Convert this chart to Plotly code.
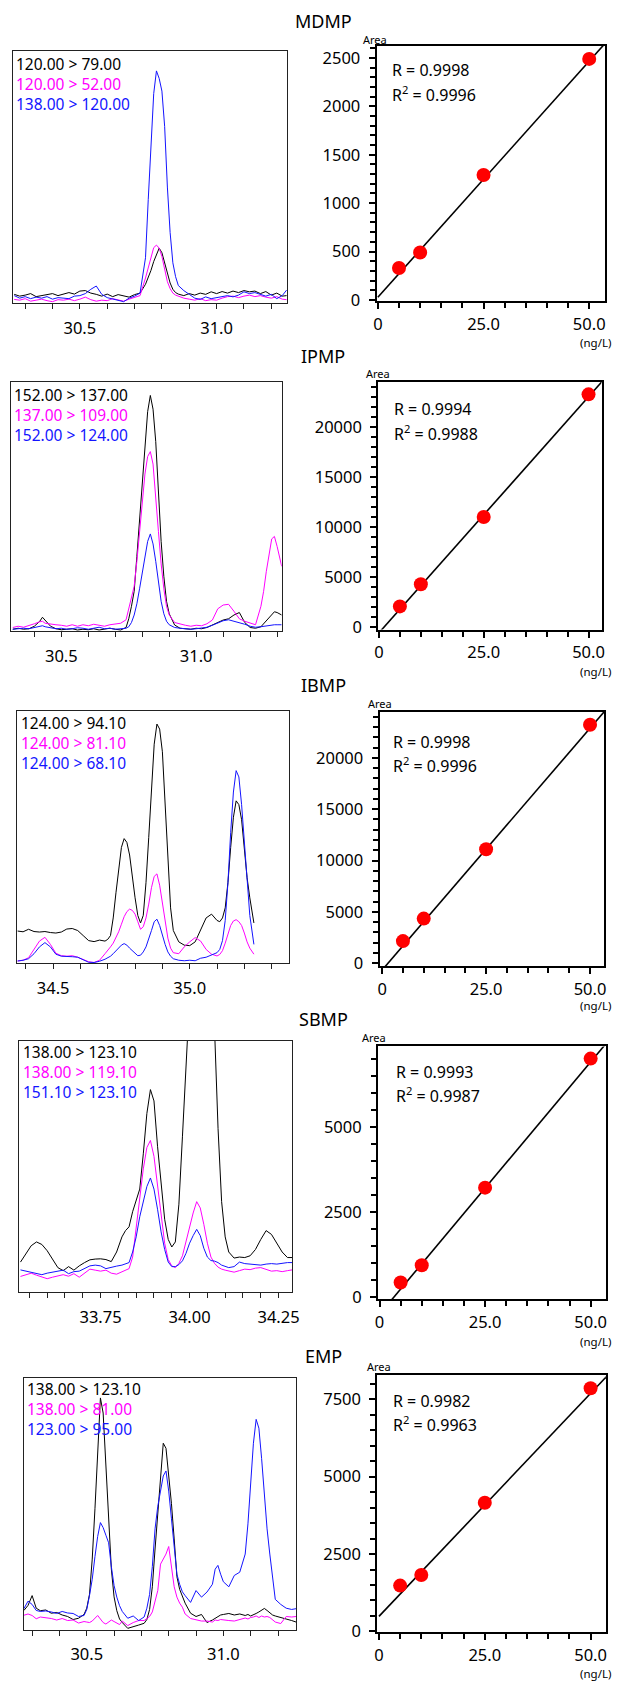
import plotly.graph_objects as go

W, H = 621, 1689
FONT = "Noto Sans"
BLACK, MAGENTA, BLUE, RED = "#000000", "#FF00FF", "#1414FF", "#FF0000"

# ------------------------------------------------------------------ data
compounds = ["MDMP", "IPMP", "IBMP", "SBMP", "EMP"]

trans_mdmp = ["120.00 > 79.00", "120.00 > 52.00", "138.00 > 120.00"]
trans_ipmp = ["152.00 > 137.00", "137.00 > 109.00", "152.00 > 124.00"]
trans_ibmp = ["124.00 > 94.10", "124.00 > 81.10", "124.00 > 68.10"]
trans_sbmp = ["138.00 > 123.10", "138.00 > 119.10", "151.10 > 123.10"]
trans_emp = ["138.00 > 123.10", "138.00 > 81.00", "123.00 > 95.00"]

# retention time (min) and relative intensity (% of panel height)
rt_mdmp = [30.26, 30.28, 30.30, 30.32, 30.34, 30.36, 30.38, 30.40, 30.42, 30.44,
           30.46, 30.48, 30.50, 30.52, 30.54, 30.56, 30.58, 30.60, 30.62, 30.64,
           30.66, 30.68, 30.70, 30.72, 30.74, 30.75, 30.76, 30.77, 30.78, 30.79,
           30.80, 30.81, 30.82, 30.83, 30.84, 30.85, 30.86, 30.88, 30.90, 30.92,
           30.94, 30.96, 30.98, 31.00, 31.02, 31.04, 31.06, 31.08, 31.10, 31.12,
           31.14, 31.16, 31.18, 31.20, 31.22, 31.24, 31.256]
mdmp_black = [3.5, 2.8, 3.2, 3.8, 2.6, 3.0, 3.5, 3.8, 3.0, 3.5,
              4.2, 3.6, 4.8, 5.0, 4.0, 3.5, 2.8, 3.6, 2.6, 3.4,
              3.0, 2.4, 3.4, 4.0, 7.5, 10, 13, 16.5, 19.5, 21.8,
              20, 16, 11.5, 8, 5.5, 4.2, 3.6, 3.0, 3.8, 3.2,
              4.0, 3.5, 4.5, 3.8, 4.6, 4.0, 4.8, 4.2, 5.0, 4.5,
              4.8, 3.8, 4.6, 3.2, 4.0, 2.8, 3.0]
mdmp_magenta = [1.5, 1.2, 1.8, 0.8, 1.2, 1.6, 1.0, 0.6, 1.4, 1.2,
                1.6, 1.0, 1.6, 2.4, 1.4, 0.8, 1.2, 1.0, 1.8, 1.4,
                0.8, 1.6, 2.2, 3.0, 10, 14, 18.5, 22, 23, 21.8,
                18.5, 13, 8.5, 5.8, 4.0, 3.2, 2.8, 2.0, 1.6, 1.2,
                1.8, 1.0, 1.4, 1.2, 2.0, 2.6, 2.8, 2.2, 2.8, 3.2,
                2.6, 3.0, 2.4, 2.0, 2.6, 1.6, 1.4]
mdmp_blue = [3.0, 2.0, 2.6, 1.8, 2.4, 2.0, 2.6, 1.6, 2.2, 2.0,
             1.8, 2.8, 3.0, 3.8, 5.5, 6.8, 3.5, 2.2, 1.6, 1.0,
             0.6, 2.0, 2.8, 4.0, 18, 41, 65, 83, 92, 89,
             84, 70, 46, 28, 16, 10.5, 7, 5, 3.5, 2.0,
             1.5, 2.5, 1.8, 2.2, 2.8, 3.0, 2.5, 3.2, 4.5, 3.8,
             4.2, 3.6, 2.8, 3.5, 1.8, 3.0, 5.2]

rt_ipmp = [30.32, 30.34, 30.36, 30.38, 30.40, 30.42, 30.43, 30.44, 30.46, 30.48,
           30.50, 30.52, 30.54, 30.56, 30.58, 30.60, 30.62, 30.64, 30.66, 30.68,
           30.70, 30.72, 30.74, 30.75, 30.76, 30.77, 30.78, 30.79, 30.80, 30.81,
           30.82, 30.83, 30.84, 30.85, 30.86, 30.87, 30.88, 30.89, 30.90, 30.92,
           30.94, 30.96, 30.98, 31.00, 31.02, 31.04, 31.06, 31.08, 31.10, 31.12,
           31.14, 31.16, 31.18, 31.20, 31.22, 31.24, 31.25, 31.26, 31.27, 31.28,
           31.29, 31.30, 31.317]
ipmp_black = [0.8, 1.2, 0.8, 1.0, 2.0, 4.0, 5.6, 4.5, 2.0, 1.0,
              0.6, 0.8, 1.0, 0.5, 0.8, 0.6, 1.0, 0.5, 0.8, 1.2,
              0.8, 0.5, 1.5, 5, 10, 16, 30, 45, 60, 76,
              88, 94.5, 89, 76, 56, 36, 22, 12, 7, 2.5,
              1.2, 1.0, 0.8, 1.2, 1.0, 1.5, 2.5, 3.5, 4.5, 5.0,
              6.5, 7.5, 3.5, 1.5, 1.2, 1.8, 3.0, 4.0, 5.0, 6.5,
              7.8, 7.5, 6.5]
ipmp_magenta = [1.5, 2.0, 1.6, 2.2, 3.0, 3.8, 4.0, 3.2, 2.8, 2.6,
                2.4, 2.0, 2.6, 2.0, 2.6, 2.2, 2.8, 2.4, 2.0, 2.6,
                3.0, 3.2, 4.6, 9, 13, 18, 28, 40, 52, 63,
                70, 72, 67, 55, 40, 27, 17, 10, 6.5, 3.5,
                2.8, 2.4, 2.0, 2.4, 2.2, 3.0, 4.5, 9, 10.5, 10.8,
                8, 5, 4.0, 3.2, 2.6, 10, 16, 24, 31, 37,
                38, 34, 26]
ipmp_blue = [0.8, 1.0, 1.2, 1.0, 1.6, 2.0, 2.2, 1.8, 1.4, 1.0,
             1.2, 0.8, 1.0, 1.4, 1.2, 0.8, 1.2, 1.6, 1.0, 1.2,
             0.8, 1.0, 1.2, 1.8, 3.5, 6.5, 11, 17, 23, 30,
             36, 39, 35, 28, 19, 12, 7, 4, 2.6, 1.5,
             1.2, 1.0, 0.8, 1.0, 1.2, 1.6, 2.4, 3.2, 4.2, 4.6,
             4.0, 3.6, 2.8, 2.0, 1.6, 1.8, 2.0, 2.2, 2.4, 2.6,
             2.6, 2.6, 2.6]

rt_ibmp = [34.37, 34.39, 34.41, 34.43, 34.45, 34.47, 34.49, 34.51, 34.53, 34.55,
           34.57, 34.59, 34.61, 34.63, 34.65, 34.67, 34.69, 34.70, 34.71, 34.72,
           34.73, 34.74, 34.75, 34.76, 34.77, 34.78, 34.79, 34.80, 34.81, 34.82,
           34.83, 34.84, 34.85, 34.86, 34.87, 34.88, 34.89, 34.90, 34.91, 34.92,
           34.93, 34.94, 34.96, 34.98, 35.00, 35.02, 35.04, 35.06, 35.08, 35.10,
           35.11, 35.12, 35.13, 35.14, 35.15, 35.16, 35.17, 35.18, 35.19, 35.20,
           35.21, 35.22, 35.235]
ibmp_black = [12.8, 12.5, 13.5, 12.6, 12.4, 12.6, 12.2, 12.0, 12.4, 13.6,
              13.8, 13.0, 11.0, 9.0, 8.6, 9.2, 8.8, 9.5, 11, 18,
              28, 38, 46, 49.5, 48, 43, 34, 26, 19, 16,
              19, 32, 50, 70, 87, 95, 93, 84, 62, 38,
              22, 13, 8.5, 7.2, 7.0, 8.5, 13, 18, 19.5, 17,
              16.5, 18, 22, 32, 46, 58, 64.5, 63, 57, 44,
              34, 26, 16]
ibmp_magenta = [0.9, 1.2, 2.2, 5.5, 8.8, 10.3, 7.5, 4.0, 3.0, 2.8,
                3.0, 2.4, 1.6, 0.6, 0.3, 1.2, 3.8, 5, 6.5, 8,
                10, 12.5, 15.5, 18.5, 20.5, 21.5, 21, 19.5, 16.5, 13.5,
                14.5, 18, 23.5, 30, 34.5, 35.5, 31, 24, 16, 10,
                6, 4.2, 3.8, 6.5, 8.5, 10.2, 8.8, 5.5, 3.6, 2.9,
                3.5, 5, 8, 12, 15, 16.8, 17.3, 16.5, 15, 12,
                8.5, 6, 3.6]
ibmp_blue = [0.9, 1.2, 1.8, 3.8, 6.5, 8.2, 6.5, 3.6, 2.8, 2.8,
             2.6, 2.4, 1.4, 0.4, 0.3, 0.8, 1.6, 2.2, 2.8, 3.8,
             5.0, 6.2, 7.2, 7.8, 7.2, 6.0, 5.0, 3.8, 3.0, 3.2,
             4.5, 6.5, 9.5, 13, 16.5, 17.5, 15, 11, 7.5, 4.5,
             2.8, 1.8, 1.2, 1.0, 1.2, 1.0, 2.0, 2.4, 3.4, 4.2,
             5.5, 9, 17, 32, 52, 68, 76.5, 74, 63, 47,
             31, 19, 7.5]

rt_sbmp = [33.525, 33.54, 33.555, 33.57, 33.585, 33.60, 33.615, 33.63, 33.645, 33.66,
           33.675, 33.69, 33.705, 33.72, 33.735, 33.75, 33.765, 33.78, 33.795, 33.81,
           33.82, 33.83, 33.84, 33.85, 33.86, 33.87, 33.88, 33.89, 33.90, 33.91,
           33.92, 33.93, 33.94, 33.95, 33.96, 33.97, 33.98, 33.99, 34.00, 34.01,
           34.02, 34.03, 34.04, 34.05, 34.06, 34.07, 34.08, 34.09, 34.10, 34.11,
           34.125, 34.14, 34.155, 34.17, 34.185, 34.20, 34.215, 34.23, 34.245, 34.26,
           34.275, 34.288]
sbmp_black = [12, 15.5, 18.5, 20, 19, 16.5, 13, 9.8, 8.6, 10.2,
              8.8, 10.5, 11.8, 12.9, 13.2, 13.3, 13, 12.2, 16, 22,
              24.5, 26, 32, 37, 41, 55, 71, 80.5, 76, 58,
              42, 29, 21, 18, 20, 35, 62, 110, 150, 180,
              195, 200, 195, 175, 140, 105, 65, 36, 22, 16,
              13.6, 14, 13.8, 14.5, 17, 21, 24.5, 23, 19.5, 16,
              13.8, 13.8]
sbmp_magenta = [6.3, 7.0, 7.6, 6.8, 6.0, 5.4, 6.0, 6.6, 7.0, 6.4,
                7.4, 6.0, 7.6, 9.2, 8.8, 8.4, 8.8, 7.6, 7.2, 8.2,
                8.8, 9.4, 14, 25, 37, 49, 57.5, 60.3, 54, 42,
                29, 19.5, 13, 10.5, 9.8, 11.5, 14.5, 20, 26.5, 31.5,
                36, 33.5, 27, 19.5, 14, 11.5, 10, 9.2, 8.8, 8.4,
                8.0, 8.6, 9.2, 9.0, 9.6, 9.8, 9.0, 8.4, 8.6, 8.2,
                8.6, 8.9]
sbmp_blue = [8.9, 8.4, 7.8, 7.4, 7.0, 7.6, 8.0, 8.6, 8.8, 7.4,
             8.2, 8.4, 9.6, 10.5, 10.8, 10.5, 9.4, 10.0, 10.4, 10.8,
             11.2, 11.8, 16, 22, 30, 36, 42, 45.4, 41, 33,
             24, 17, 12, 10.2, 10.2, 11, 12.5, 15.5, 19.5, 22.5,
             25, 22.5, 17.5, 14, 12.6, 12.4, 11.8, 10.8, 10.4, 9.8,
             10.2, 12, 11.4, 11.2, 11.0, 10.8, 11.2, 11.4, 11.2, 11.6,
             11.8, 11.8]

rt_emp = [30.27, 30.285, 30.30, 30.315, 30.33, 30.35, 30.37, 30.39, 30.41, 30.43,
          30.45, 30.47, 30.49, 30.50, 30.51, 30.52, 30.53, 30.54, 30.55, 30.56,
          30.57, 30.58, 30.59, 30.60, 30.61, 30.62, 30.63, 30.65, 30.67, 30.69,
          30.71, 30.72, 30.73, 30.74, 30.75, 30.76, 30.77, 30.78, 30.79, 30.80,
          30.81, 30.82, 30.83, 30.84, 30.85, 30.86, 30.88, 30.90, 30.92, 30.94,
          30.96, 30.97, 30.98, 30.99, 31.00, 31.02, 31.04, 31.06, 31.08, 31.09,
          31.10, 31.11, 31.12, 31.13, 31.14, 31.15, 31.16, 31.17, 31.18, 31.19,
          31.21, 31.23, 31.25, 31.266]
emp_black = [7.6, 9.6, 13.5, 8.5, 7.5, 7.8, 6.5, 6.8, 5.8, 5.2,
             4.0, 4.5, 6.0, 8.5, 14, 28, 48, 72, 92, 86,
             66, 42, 24, 13, 7.5, 4.2, 2.8, 0.5, 1.0, 1.8,
             2.5, 4.0, 8, 17, 32, 46, 62, 74, 72, 62,
             50, 36, 21, 16, 13.5, 10.5, 6.5, 5.2, 6.0, 2.8,
             3.8, 4.5, 5.4, 5.8, 6.0, 6.4, 5.8, 6.2, 5.6, 6.0,
             5.4, 5.8, 6.4, 7.0, 7.6, 8.4, 7.6, 6.6, 5.8, 5.4,
             4.8, 4.4, 3.6, 3.0]
emp_magenta = [5.7, 6.2, 5.6, 4.3, 5.0, 4.8, 4.4, 3.8, 4.4, 3.6,
               3.8, 2.6, 3.2, 3.0, 2.8, 3.4, 4.6, 5.6, 4.2, 2.8,
               2.2, 3.0, 3.8, 3.2, 2.6, 2.0, 3.4, 1.6, 2.8, 3.6,
               3.6, 4.4, 5.2, 7, 11, 15.5, 26, 28, 30, 33,
               24, 17, 12.9, 10.5, 8.9, 6.2, 4.4, 3.8, 3.4, 3.4,
               3.0, 3.8, 3.6, 4.0, 3.8, 3.6, 3.4, 4.0, 4.6, 4.2,
               4.8, 5.0, 5.4, 4.8, 5.4, 5.0, 5.2, 4.8, 4.0, 3.0,
               2.4, 5.2, 5.0, 5.2]
emp_blue = [8.3, 11.3, 10.0, 7.6, 7.2, 7.4, 7.0, 6.4, 7.2, 6.6,
            6.4, 5.2, 5.6, 8, 13.5, 20, 29, 37, 42.5, 40.5,
            37.5, 34.5, 25, 17.5, 12.9, 9.5, 7.2, 4.5, 5.4, 3.6,
            5.0, 8.5, 14, 25, 40, 49, 55, 61, 63, 55,
            44, 33, 22, 18, 15, 13.5, 10.8, 15.5, 12.9, 14.9,
            18, 24, 25.5, 22, 19, 17, 21.5, 22.8, 30, 42,
            58, 74, 83.5, 80, 68, 52, 40, 30, 20, 12,
            10, 8.5, 8.0, 8.3]

# calibration: concentration (ng/L) vs peak area
conc = [5, 10, 25, 50]
area_mdmp = [330, 490, 1290, 2490]
area_ipmp = [2080, 4290, 11000, 23230]
area_ibmp = [2160, 4350, 11100, 23220]
area_sbmp = [434, 938, 3214, 6998]
area_emp = [1480, 1824, 4160, 7860]
fit_slope = [48.8, 471, 470.8, 148, 144.2]
fit_intercept = [27, -560, -659, -500, 483]
fit_conc_span = [0, 56]
r_values = ["0.9998", "0.9994", "0.9998", "0.9993", "0.9982"]
r2_values = ["0.9996", "0.9988", "0.9996", "0.9987", "0.9963"]
conc_tickvals = [0, 25, 50]
conc_ticktext = ["0", "25.0", "50.0"]

# ------------------------------------------------------------------ layout geometry (px)
chrom_boxes = [(9.3, 51, 288, 305), (7.3, 384, 282.7, 635), (13.3, 715.7, 290, 969),
               (15.7, 1046.7, 293.3, 1300), (20, 1386, 297.3, 1639.3)]
calib_boxes = [(379.3, 46, 611.7, 302.7), (381, 384, 608.3, 633.3), (382.3, 716, 611, 971.7),
               (380.7, 1052.7, 612.7, 1306.7), (380, 1383.3, 612.7, 1641.7)]
chrom_xrange = [(30.256, 31.257), (30.314, 31.317), (34.368, 35.363), (33.522, 34.288), (30.269, 31.266)]
chrom_dtick = [0.5, 0.5, 0.5, 0.25, 0.5]
chrom_minor = [0.1, 0.1, 0.1, 0.05, 0.1]
chrom_fmt = [".1f", ".1f", ".1f", ".2f", ".1f"]
calib_xrange = [(-0.3, 53.7), (-0.16, 53.1), (-0.63, 53.4), (-0.37, 53.6), (-0.4, 53.6)]
calib_yrange = [(-10, 2626), (-230, 24490), (-260, 24480), (-50, 7354), (-20, 8285)]
calib_dtick = [500, 5000, 5000, 2500, 2500]
calib_minor = [100, 1000, 1000, 500, 500]

title_y = [21, 358, 689, 1025, 1364]
title_x = 325
legend_x = [10, 8.3, 15, 17.3, 21.7]
legend_mid_y = [84, 417, 747.5, 1078, 1417.7]
r_x = [393.3, 395, 394, 397.3, 394]
r_y = [70.7, 411.7, 746.7, 1078.3, 1409]
r2_y = [95, 436, 770, 1101.7, 1432.7]
area_lbl_x = [377.7, 380.7, 382.7, 376.7, 381.7]
area_lbl_y = [39.3, 376, 707.3, 1043.3, 1374.3]
unit_x = 601.7
unit_y = [345, 675, 1011, 1349, 1683]

chrom_rt = [rt_mdmp, rt_ipmp, rt_ibmp, rt_sbmp, rt_emp]
chrom_sig = [[mdmp_black, mdmp_magenta, mdmp_blue], [ipmp_black, ipmp_magenta, ipmp_blue],
             [ibmp_black, ibmp_magenta, ibmp_blue], [sbmp_black, sbmp_magenta, sbmp_blue],
             [emp_black, emp_magenta, emp_blue]]
transitions = [trans_mdmp, trans_ipmp, trans_ibmp, trans_sbmp, trans_emp]
areas = [area_mdmp, area_ipmp, area_ibmp, area_sbmp, area_emp]
trace_colors = [BLACK, MAGENTA, BLUE]


def hx(px):
    return px / W


def vy(py):
    return 1 - py / H


def names(n):
    s = "" if n == 1 else str(n)
    return "x" + s, "y" + s, "xaxis" + s, "yaxis" + s


fig = go.Figure()
layout_axes = {}
ann = []
tickfont = dict(family=FONT, size=16.5, color="black")

for i in range(5):
    # ---------------- chromatogram
    xr, yr, xk, yk = names(2 * i + 1)
    x0, y0, x1, y1 = chrom_boxes[i]
    for sig, col in zip(chrom_sig[i], trace_colors):
        fig.add_trace(go.Scatter(x=chrom_rt[i], y=sig, mode="lines", xaxis=xr, yaxis=yr,
                                 line=dict(color=col, width=1), hoverinfo="skip",
                                 showlegend=False))
    layout_axes[xk] = dict(domain=[hx(x0), hx(x1)], anchor=yr, range=list(chrom_xrange[i]),
                           showline=True, linecolor="#222", linewidth=1, mirror=True,
                           ticks="outside", ticklen=5, tickwidth=1, tickcolor="#222",
                           tick0=0, dtick=chrom_dtick[i], tickformat=chrom_fmt[i],
                           ticklabelstandoff=5,
                           minor=dict(tick0=0, dtick=chrom_minor[i], ticks="outside", ticklen=5,
                                      tickwidth=1, tickcolor="#222", showgrid=False),
                           showgrid=False, zeroline=False, tickfont=tickfont, fixedrange=True)
    layout_axes[yk] = dict(domain=[vy(y1), vy(y0)], anchor=xr, range=[0, 100],
                           showline=True, linecolor="#222", linewidth=1, mirror=True,
                           showticklabels=False, ticks="", tickmode="array", tickvals=[],
                           showgrid=False, zeroline=False, fixedrange=True)
    legend_html = "<br>".join(
        "<span style='color:%s'>%s</span>" % (col, txt)
        for txt, col in zip(transitions[i], trace_colors))
    ann.append(dict(x=hx(legend_x[i]), y=vy(legend_mid_y[i]), xref="paper", yref="paper",
                    text=legend_html, showarrow=False, xanchor="left", yanchor="middle",
                    align="left", font=dict(family=FONT, size=15.5, color="black")))

    # ---------------- calibration curve
    xr2, yr2, xk2, yk2 = names(2 * i + 2)
    x0, y0, x1, y1 = calib_boxes[i]
    fit_y = [fit_intercept[i] + fit_slope[i] * c for c in fit_conc_span]
    fig.add_trace(go.Scatter(x=fit_conc_span, y=fit_y, mode="lines", xaxis=xr2, yaxis=yr2,
                             line=dict(color="black", width=1.6), hoverinfo="skip",
                             showlegend=False))
    fig.add_trace(go.Scatter(x=conc, y=areas[i], mode="markers", xaxis=xr2, yaxis=yr2,
                             marker=dict(color=RED, size=14, line=dict(width=0)),
                             showlegend=False, cliponaxis=False))
    layout_axes[xk2] = dict(domain=[hx(x0), hx(x1)], anchor=yr2, range=list(calib_xrange[i]),
                            showline=True, linecolor="black", linewidth=2, mirror=True,
                            ticks="outside", ticklen=6, tickwidth=2, tickcolor="black",
                            tickmode="array", tickvals=conc_tickvals, ticktext=conc_ticktext,
                            ticklabelstandoff=1,
                            minor=dict(tickmode="linear", tick0=0, dtick=5, ticks="outside",
                                       ticklen=5, tickwidth=2, tickcolor="black", showgrid=False),
                            showgrid=False, zeroline=False, tickfont=tickfont, fixedrange=True)
    layout_axes[yk2] = dict(domain=[vy(y1), vy(y0)], anchor=xr2, range=list(calib_yrange[i]),
                            showline=True, linecolor="black", linewidth=2, mirror=True,
                            ticks="outside", ticklen=6, tickwidth=2, tickcolor="black",
                            tick0=0, dtick=calib_dtick[i], tickformat="d",
                            ticklabelstandoff=5,
                            minor=dict(tick0=0, dtick=calib_minor[i], ticks="outside", ticklen=5,
                                       tickwidth=2, tickcolor="black", showgrid=False),
                            showgrid=False, zeroline=False, tickfont=tickfont, fixedrange=True)

    ann.append(dict(x=hx(r_x[i]), y=vy(r_y[i]), xref="paper", yref="paper",
                    text="R = " + r_values[i], showarrow=False, xanchor="left", yanchor="middle",
                    font=dict(family=FONT, size=16, color="black")))
    ann.append(dict(x=hx(r_x[i]), y=vy(r2_y[i]), xref="paper", yref="paper",
                    text="R<sup>2</sup> = " + r2_values[i], showarrow=False, xanchor="left",
                    yanchor="middle", font=dict(family=FONT, size=16, color="black")))
    ann.append(dict(x=hx(area_lbl_x[i]), y=vy(area_lbl_y[i]), xref="paper", yref="paper",
                    text="Area", showarrow=False, xanchor="center", yanchor="middle",
                    font=dict(family=FONT, size=11, color="black")))
    ann.append(dict(x=hx(unit_x), y=vy(unit_y[i]), xref="paper", yref="paper",
                    text="(ng/L)", showarrow=False, xanchor="center", yanchor="middle",
                    font=dict(family=FONT, size=11.5, color="black")))
    ann.append(dict(x=hx(title_x), y=vy(title_y[i]), xref="paper", yref="paper",
                    text=compounds[i], showarrow=False, xanchor="center", yanchor="middle",
                    font=dict(family=FONT, size=18, color="black")))

fig.update_layout(width=W, height=H, margin=dict(l=0, r=0, t=0, b=0),
                  paper_bgcolor="white", plot_bgcolor="white",
                  font=dict(family=FONT, color="black"), annotations=ann, **layout_axes)

fig.write_html("out.html", config={"displayModeBar": False},
               post_script="document.body.style.margin='0';document.body.style.overflow='hidden';")
